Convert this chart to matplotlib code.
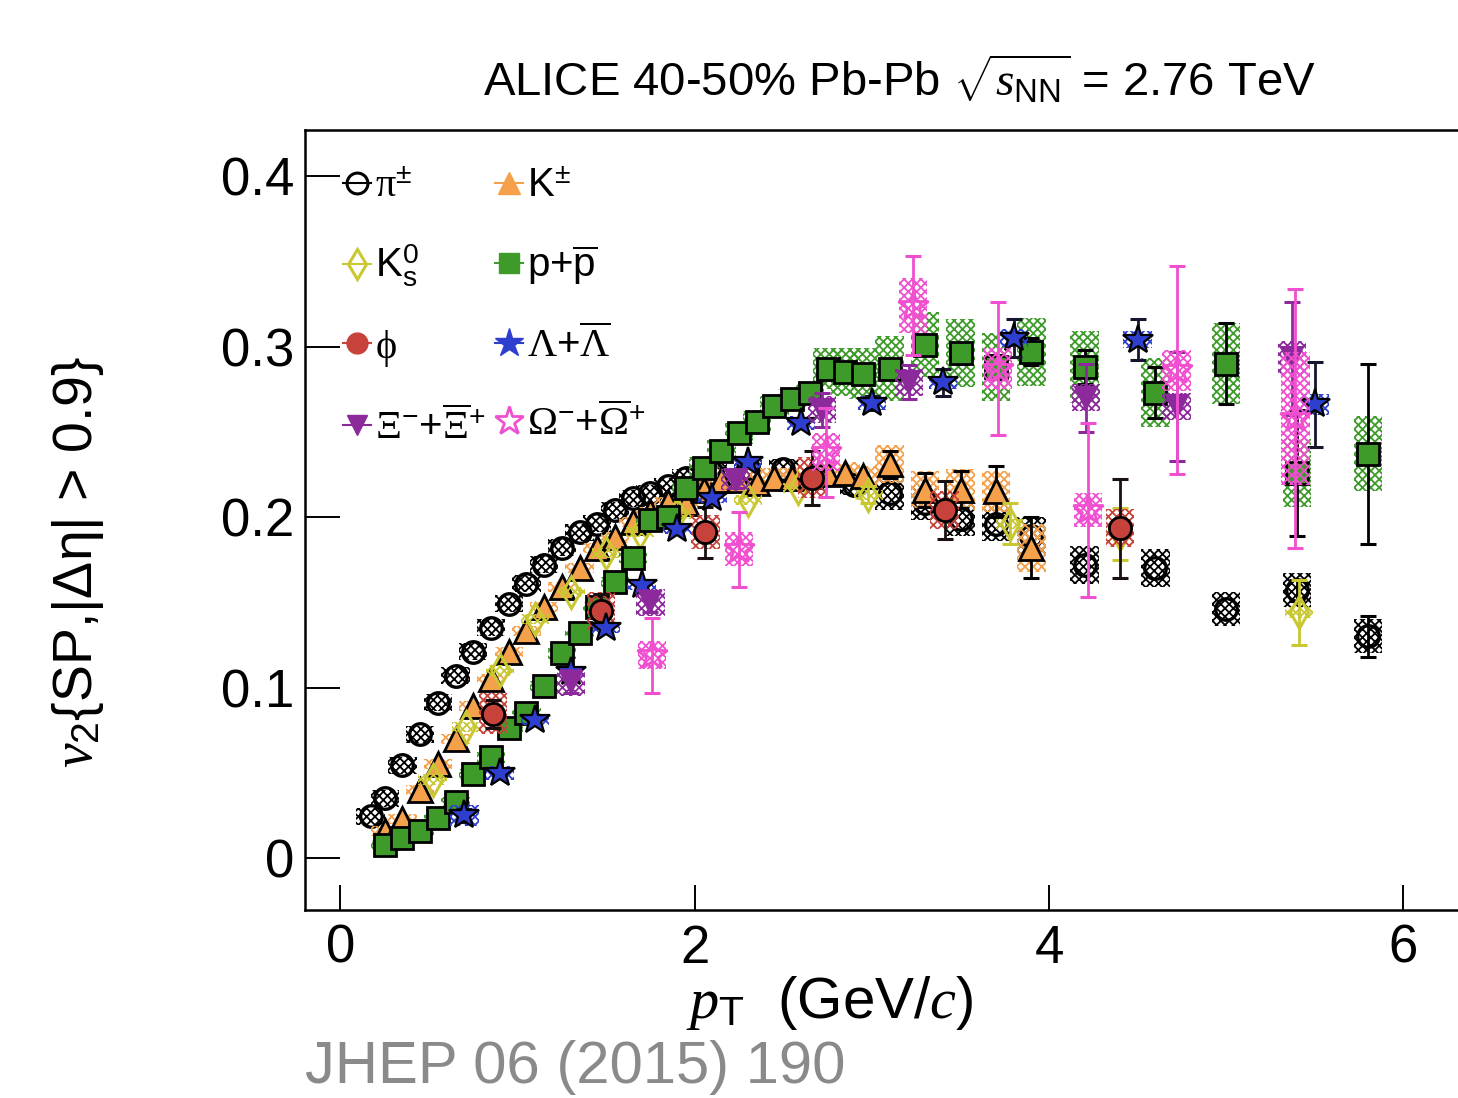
import numpy as np
import matplotlib
matplotlib.use('Agg')
import matplotlib.pyplot as plt
from matplotlib.lines import Line2D
from matplotlib.patches import Rectangle

plt.rcParams['font.family'] = ['Liberation Sans', 'DejaVu Sans']
plt.rcParams['mathtext.fontset'] = 'custom'
plt.rcParams['mathtext.rm'] = 'Liberation Sans'
plt.rcParams['mathtext.it'] = 'Liberation Serif:italic'
plt.rcParams['mathtext.sf'] = 'Liberation Serif'
plt.rcParams['hatch.linewidth'] = 1.3

# ---- v2{SP} vs pT, 40-50% Pb-Pb ----
pi_pt = [0.17, 0.25, 0.35, 0.45, 0.55, 0.65, 0.75, 0.85, 0.95, 1.05, 1.15, 1.25, 1.35,
         1.45, 1.55, 1.65, 1.75, 1.85, 1.95, 2.1, 2.3, 2.5, 2.7, 2.9,
         3.1, 3.3, 3.5, 3.7, 3.9, 4.2, 4.6, 5.0, 5.4, 5.8]
pi_v2 = [0.0246, 0.035, 0.0545, 0.0727, 0.091, 0.107, 0.121, 0.135, 0.149, 0.161, 0.172,
         0.182, 0.191, 0.196, 0.204, 0.211, 0.214, 0.218, 0.223, 0.226, 0.229, 0.228,
         0.224, 0.219, 0.214, 0.208, 0.199, 0.196, 0.189, 0.172, 0.170, 0.146, 0.157, 0.130]
pi_stat = [0.001] * 24 + [0.003, 0.003, 0.003, 0.003, 0.003, 0.003, 0.003, 0.003, 0.006, 0.012]
pi_sys = [0.005] * 19 + [0.006] * 5 + [0.010, 0.010, 0.010, 0.010, 0.011, 0.011, 0.011,
                                       0.010, 0.010, 0.010]

k_pt = [0.25, 0.35, 0.45, 0.55, 0.65, 0.75, 0.85, 0.95, 1.05, 1.15, 1.25, 1.35, 1.45, 1.55,
        1.65, 1.75, 1.85, 1.95, 2.05, 2.15, 2.25, 2.35, 2.45, 2.55, 2.65, 2.75, 2.85, 2.95,
        3.1, 3.3, 3.5, 3.7, 3.9]
k_v2 = [0.016, 0.023, 0.040, 0.055, 0.070, 0.089, 0.105, 0.121, 0.133, 0.147, 0.159, 0.170,
        0.182, 0.188, 0.197, 0.203, 0.209, 0.208, 0.216, 0.222, 0.222, 0.220, 0.223, 0.223,
        0.224, 0.225, 0.226, 0.224, 0.231, 0.216, 0.216, 0.215, 0.182]
k_stat = [0.001] * 28 + [0.008, 0.010, 0.011, 0.015, 0.018]
k_sys = [0.003] * 18 + [0.006] * 10 + [0.011, 0.011, 0.012, 0.012, 0.014]

k0_pt = [0.52, 0.71, 0.90, 1.10, 1.30, 1.50, 1.69, 1.90, 2.30, 2.58, 2.98, 3.78, 4.40, 5.41]
k0_v2 = [0.046, 0.077, 0.110, 0.140, 0.156, 0.179, 0.191, 0.202, 0.210, 0.217, 0.213,
         0.196, 0.190, 0.144]
k0_stat = [0.002, 0.002, 0.002, 0.002, 0.002, 0.002, 0.003, 0.003, 0.003, 0.003, 0.005,
           0.012, 0.015, 0.019]
k0_sys = [0.003] * 14

p_pt = [0.25, 0.35, 0.45, 0.55, 0.65, 0.75, 0.85, 0.95, 1.05, 1.15, 1.25, 1.35, 1.45, 1.55,
        1.65, 1.75, 1.85, 1.95, 2.05, 2.15, 2.25, 2.35, 2.45, 2.55, 2.65, 2.75, 2.85, 2.95,
        3.1, 3.3, 3.5, 3.7, 3.9, 4.2, 4.6, 5.0, 5.4, 5.8]
p_v2 = [0.0076, 0.0117, 0.0158, 0.0235, 0.033, 0.049, 0.059, 0.076, 0.085, 0.101, 0.120,
        0.132, 0.147, 0.162, 0.176, 0.198, 0.200, 0.217, 0.229, 0.239, 0.249, 0.256, 0.265,
        0.269, 0.273, 0.287, 0.285, 0.284, 0.287, 0.301, 0.296, 0.288, 0.297, 0.288, 0.273,
        0.290, 0.226, 0.237]
p_stat = [0.001] * 25 + [0.004, 0.004, 0.005, 0.005, 0.006, 0.006, 0.007, 0.008,
                         0.010, 0.015, 0.024, 0.037, 0.053]
p_sys = [0.003] * 18 + [0.006] * 7 + [0.012, 0.014, 0.015, 0.019, 0.019, 0.020, 0.020,
                                      0.020, 0.021, 0.020, 0.024, 0.020, 0.022]

phi_pt = [0.86, 1.47, 2.06, 2.66, 3.41, 4.40]
phi_v2 = [0.0845, 0.145, 0.191, 0.223, 0.204, 0.1935]
phi_stat = [0.008, 0.010, 0.015, 0.016, 0.017, 0.029]
phi_sys = [0.012, 0.011, 0.010, 0.012, 0.011, 0.011]

lam_pt = [0.70, 0.90, 1.10, 1.30, 1.50, 1.70, 1.90, 2.10, 2.30, 2.60, 3.00, 3.40, 3.80,
          4.50, 5.50]
lam_v2 = [0.025, 0.050, 0.081, 0.109, 0.135, 0.160, 0.193, 0.211, 0.232, 0.255, 0.267,
          0.279, 0.305, 0.304, 0.266]
lam_stat = [0.004, 0.002, 0.002, 0.002, 0.002, 0.002, 0.002, 0.003, 0.003, 0.003, 0.004,
            0.008, 0.011, 0.012, 0.025]
lam_sys = [0.006, 0.004, 0.003, 0.003, 0.003, 0.003, 0.003, 0.003, 0.003, 0.004, 0.004,
           0.004, 0.005, 0.005, 0.006]

xi_pt = [1.30, 1.75, 2.23, 2.72, 3.21, 4.21, 4.72, 5.37]
xi_v2 = [0.103, 0.150, 0.222, 0.263, 0.279, 0.270, 0.265, 0.293]
xi_stat = [0.006, 0.006, 0.005, 0.010, 0.010, 0.020, 0.032, 0.033]
xi_sys = [0.008, 0.008, 0.006, 0.008, 0.008, 0.008, 0.008, 0.010]

om_pt = [1.76, 2.25, 2.74, 3.23, 3.71, 4.22, 4.72, 5.39]
om_v2 = [0.119, 0.181, 0.238, 0.324, 0.287, 0.204, 0.286, 0.258]
om_stat = [0.022, 0.022, 0.026, 0.029, 0.039, 0.051, 0.061, 0.076]
om_sys = [0.008, 0.010, 0.011, 0.016, 0.012, 0.010, 0.012, 0.039]

C_K = '#f5a04a'
C_K0 = '#c9c832'
C_P = '#3e9b2a'
C_PHI = '#c6423a'
C_LAM = '#2e3fd0'
C_XI = '#8c2a9c'
C_OM = '#f04fd0'

fig = plt.figure(figsize=(14.58, 10.98), dpi=100)
ax = fig.add_axes([305 / 1458, 188 / 1098, 1187 / 1458, 780 / 1098])
ax.set_xlim(-0.2, 6.5)
ax.set_ylim(-0.0305, 0.427)


def draw(pt, v2, stat, sys, color, ecolor, z, **mk):
    pt, v2, stat = np.asarray(pt), np.asarray(v2), np.asarray(stat)
    for x, y, s in zip(pt, v2, sys):
        ax.add_patch(Rectangle((x - 0.08, y - s), 0.16, 2 * s, facecolor='none',
                               edgecolor=color, hatch='xxxx', linewidth=0, zorder=z))
    big = stat >= 0.004          # bars smaller than the marker are not drawn
    ax.errorbar(pt[big], v2[big], yerr=stat[big], fmt='none', ecolor=ecolor,
                elinewidth=2.0, capsize=6, capthick=2.2, zorder=z + 0.1)
    ax.plot(pt, v2, linestyle='none', zorder=z + 0.2, **mk)


draw(pi_pt, pi_v2, pi_stat, pi_sys, 'black', 'black', 2,
     marker='o', ms=15.5, mfc='none', mec='black', mew=2.4)
draw(k_pt, k_v2, k_stat, k_sys, C_K, 'black', 3,
     marker='^', ms=17, mfc=C_K, mec='black', mew=2.0)
draw(k0_pt, k0_v2, k0_stat, k0_sys, C_K0, C_K0, 4,
     marker='d', ms=16, mfc='none', mec=C_K0, mew=2.2)
draw(p_pt, p_v2, p_stat, p_sys, C_P, 'black', 5,
     marker='s', ms=15.5, mfc=C_P, mec='black', mew=2.0)
draw(phi_pt, phi_v2, phi_stat, phi_sys, C_PHI, '#1a1010', 6,
     marker='o', ms=16, mfc=C_PHI, mec='black', mew=2.0)
draw(lam_pt, lam_v2, lam_stat, lam_sys, C_LAM, '#15152e', 7,
     marker='*', ms=22, mfc=C_LAM, mec='black', mew=1.6)
draw(xi_pt, xi_v2, xi_stat, xi_sys, C_XI, C_XI, 8,
     marker='v', ms=16, mfc=C_XI, mec=C_XI, mew=1.5)
draw(om_pt, om_v2, om_stat, om_sys, C_OM, C_OM, 9,
     marker='*', ms=22, mfc='none', mec=C_OM, mew=2.0)

# axes frame: left/top/bottom only, long inward ticks
ax.spines['right'].set_visible(False)
for sp in ('left', 'top', 'bottom'):
    ax.spines[sp].set_linewidth(1.8)
ax.set_xticks([0, 2, 4, 6])
ax.set_yticks([0, 0.1, 0.2, 0.3, 0.4])
ax.set_yticklabels(['0', '0.1', '0.2', '0.3', '0.4'])
ax.tick_params(axis='y', direction='in', length=25, width=1.4, labelsize=38, pad=8)
ax.tick_params(axis='x', direction='in', length=18, width=1.4, labelsize=38, pad=10)

ax.set_xlabel(r'$p_{\rm T}$  (GeV/$c$)', fontsize=42, va='center')
ax.xaxis.set_label_coords(0.442, -0.119)
ax.set_ylabel(r'$v_{2}${SP,|$\mathrm{\Delta\eta}$| > 0.9}', fontsize=40, va='center')
ax.yaxis.set_label_coords(-0.191, 0.446)

fig.text(0.617, 0.927, r'ALICE 40-50% Pb-Pb $\sqrt{s_{\rm NN}}$ = 2.76 TeV',
         fontsize=34, ha='center', va='center')
fig.text(305 / 1458, 15 / 1098, 'JHEP 06 (2015) 190', fontsize=43, color='#8a8a8a',
         ha='left', va='baseline')

# two-column legend (column-major order)
handles = [
    Line2D([], [], marker='o', ms=15, mfc='none', mec='black', mew=2.2, color='black', lw=1.5),
    Line2D([], [], marker='d', ms=15, mfc='none', mec=C_K0, mew=2.2, color=C_K0, lw=1.5),
    Line2D([], [], marker='o', ms=15, mfc=C_PHI, mec=C_PHI, color=C_PHI, lw=1.5),
    Line2D([], [], marker='v', ms=15, mfc=C_XI, mec=C_XI, color=C_XI, lw=1.5),
    Line2D([], [], marker='^', ms=16, mfc=C_K, mec=C_K, color=C_K, lw=1.5),
    Line2D([], [], marker='s', ms=14, mfc=C_P, mec=C_P, color=C_P, lw=1.5),
    Line2D([], [], marker='*', ms=21, mfc=C_LAM, mec=C_LAM, color=C_LAM, lw=1.5),
    Line2D([], [], marker='*', ms=21, mfc='none', mec=C_OM, mew=2.0, color=C_OM, lw=0),
]
labels = [r'$\mathsf{\pi}^{\pm}$', r'K$^{0}_{\rm s}$', r'$\mathsf{\phi}$',
          r'$\mathsf{\Xi}^{-}$+$\overline{\mathsf{\Xi}}^{+}$',
          r'K$^{\pm}$', r'p+$\overline{\rm p}$', r'$\mathsf{\Lambda}$+$\overline{\mathsf{\Lambda}}$',
          r'$\mathsf{\Omega}^{-}$+$\overline{\mathsf{\Omega}}^{+}$']
ax.legend(handles, labels, ncol=2, loc='upper left', bbox_to_anchor=(0.0316, 0.953),
          frameon=False, fontsize=29, handlelength=0.7, handletextpad=0.1,
          columnspacing=0.25, labelspacing=0.95, borderpad=0, borderaxespad=0)

fig.savefig('out.png', dpi=100)
